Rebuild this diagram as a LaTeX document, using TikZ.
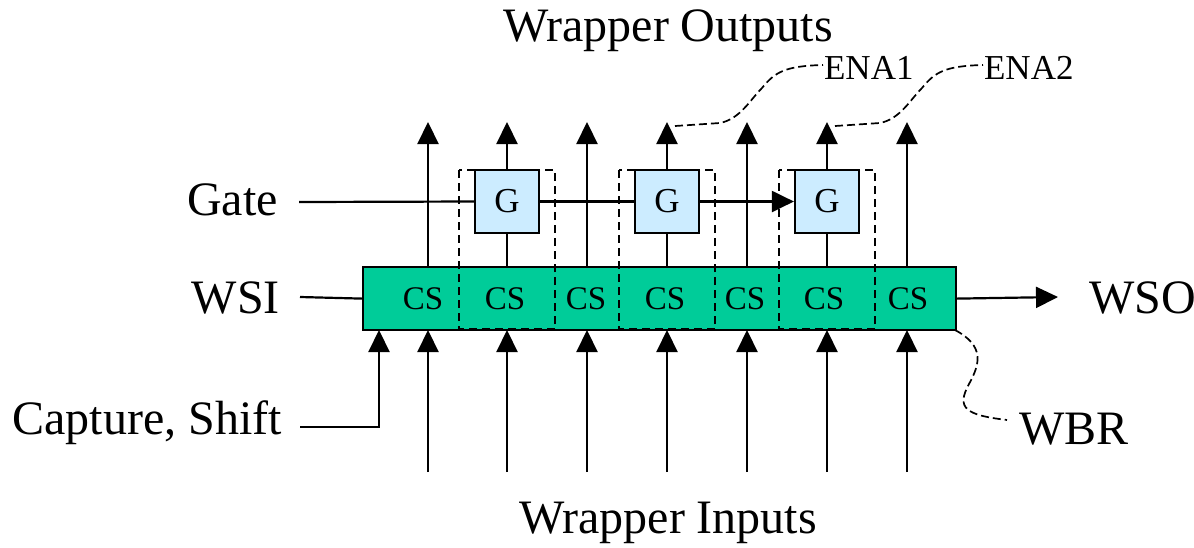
\documentclass[tikz,border=0pt]{standalone}
\usepackage{fontspec}
\setmainfont{Liberation Serif}
\usetikzlibrary{arrows.meta}
\definecolor{csgreen}{RGB}{0,204,153}
\definecolor{gblue}{RGB}{204,236,255}
\begin{document}
\begin{tikzpicture}[x=1pt,y=-1pt,line width=2.2pt,
  arr/.style={-{Triangle[length=22pt 0,width=21pt 0]}},
  big/.style={font=\fontsize{48}{50}\selectfont,inner sep=0pt},
  small/.style={font=\fontsize{35}{38}\selectfont,inner sep=0pt},
  cslab/.style={font=\fontsize{33}{36}\selectfont,inner sep=0pt,anchor=base},
  gbox/.style={draw,fill=gblue,minimum width=64pt,minimum height=63pt,inner sep=0pt,font=\fontsize{35}{36}\selectfont},
  dbox/.style={line width=1.7pt,dash pattern=on 8pt off 5pt},
  lead/.style={line width=1.7pt,dash pattern=on 8pt off 4pt}]
\useasboundingbox (0,0) rectangle (1194,547);
% bottom inputs
\foreach \x [count=\i] in {428,507,587,667,747,827,907}{
  \coordinate (in\i) at (\x,472);
  \coordinate (ib\i) at (\x,330);
  \draw[arr] (in\i) -- (ib\i);
}
% capture shift
\node[big,anchor=base east] (cap) at (283,434) {Capture, Shift};
\coordinate (cs0) at (300,427);
\coordinate (cs1) at (379,427);
\coordinate (cs2) at (379,330);
\draw[arr] (cs0) -- (cs1) -- (cs2);
% top outputs without gates
\foreach \x [count=\i] in {428,587,747,907}{
  \coordinate (ot\i) at (\x,266);
  \coordinate (oh\i) at (\x,122);
  \draw[arr] (ot\i) -- (oh\i);
}
% main register
\node[draw,fill=csgreen,minimum width=593pt,minimum height=63pt,inner sep=0pt,anchor=north west] (reg) at (362,266) {};
% dashed groups
\draw[dbox] (459,170) rectangle (555,329);
\draw[dbox] (619,170) rectangle (715,329);
\draw[dbox] (779,170) rectangle (875,329);
% CS labels
\foreach \x in {423,505,586,665,745,824,908}{
  \node[cslab] at (\x,309) {CS};
}
% gates
\node[gbox] (g1) at (507,201.5) {G};
\node[gbox] (g2) at (667,201.5) {G};
\node[gbox] (g3) at (827,201.5) {G};
\foreach \g/\x in {g1/507,g2/667,g3/827}{
  \coordinate (\g b) at (\x,266);
  \coordinate (\g t) at (\x,122);
  \draw (\g b) -- (\g.south);
  \draw[arr] (\g.north) -- (\g t);
}
% gate line
\node[big,anchor=base east] (gate) at (279,215) {Gate};
\coordinate (gs) at (299,202);
\draw (gs) -- (g1.west);
\draw (g1.east) -- (g2.west);
\draw[arr] (g2.east) -- (g3.west);
% WSI / WSO
\node[big,anchor=base east] (wsi) at (281,313) {WSI};
\coordinate (wsis) at (300,297);
\draw (wsis) -- (reg.west);
\node[big,anchor=base west] (wso) at (1088,313) {WSO};
\coordinate (wsoe) at (1058,297);
\draw[arr] (reg.east) -- (wsoe);
% titles
\node[big,anchor=base] (wout) at (668,41) {Wrapper Outputs};
\node[big,anchor=base] (win) at (668,533) {Wrapper Inputs};
% ENA labels
\node[small,anchor=base west] (ena1) at (823,79) {ENA1};
\node[small,anchor=base west] (ena2) at (983,79) {ENA2};
\coordinate (e1s) at (675,126);
\coordinate (e2s) at (835,126);
\draw[lead] (e1s) -- (720,123) .. controls (740,119) and (750,100) .. (762,88) .. controls (775,72) and (785,66) .. (ena1.west|-0,65);
\draw[lead] (e2s) -- (880,123) .. controls (900,119) and (910,100) .. (922,88) .. controls (935,72) and (945,66) .. (ena2.west|-0,65);
% WBR
\node[big,anchor=base west] (wbrl) at (1018,444) {WBR};
\coordinate (wc) at (955,330);
\coordinate (we) at (1007,420);
\draw[lead] (wc) .. controls (985,346) and (980,364) .. (969,384) .. controls (956,408) and (965,415) .. (we);
\end{tikzpicture}
\end{document}
